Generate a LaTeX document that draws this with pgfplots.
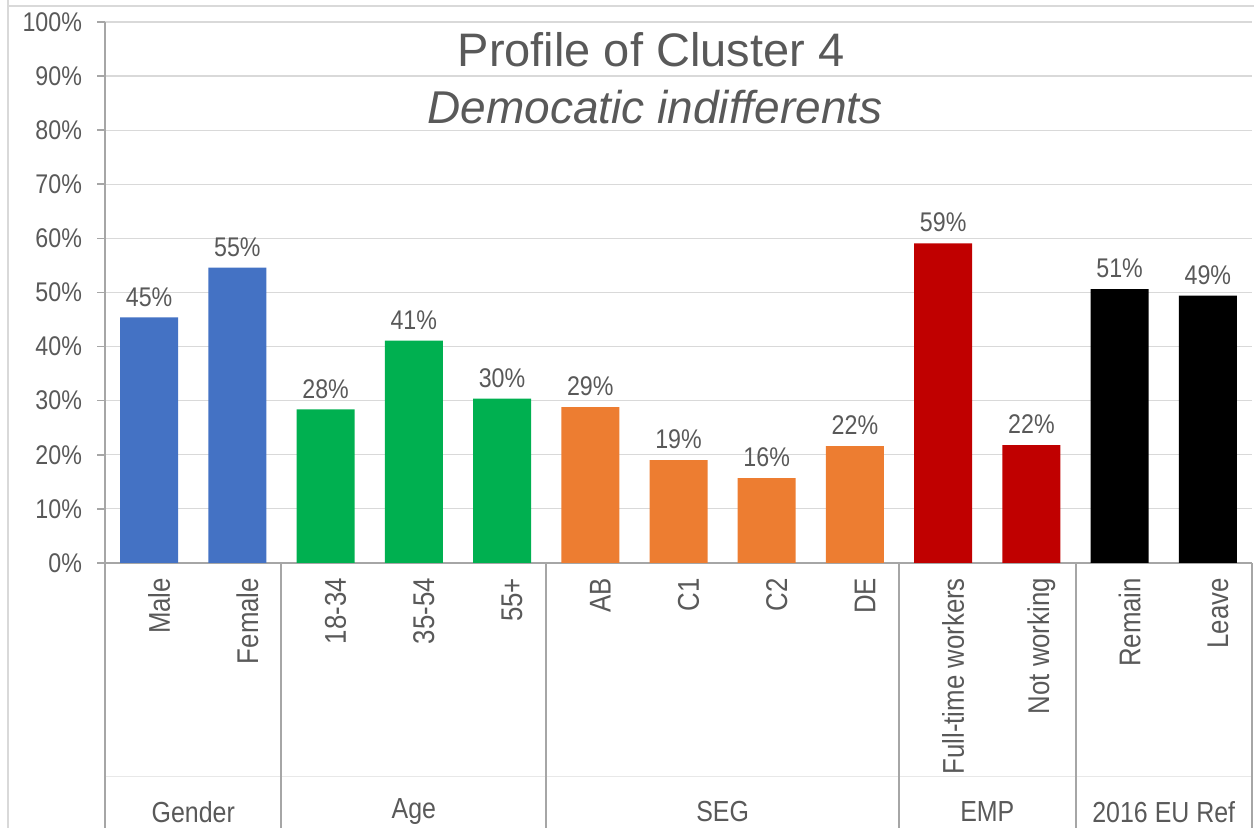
\documentclass[border=0pt]{standalone}
\usepackage{pgfplots}
\pgfplotsset{compat=1.18}
\usepackage{fontspec}
\setmainfont[FakeStretch=0.86]{Liberation Sans}
\newfontfamily\titlefont{Liberation Sans}
\definecolor{txt}{HTML}{595959}
\definecolor{axl}{HTML}{A6A6A6}
\definecolor{grd}{HTML}{D9D9D9}
\definecolor{cblue}{HTML}{4472C4}
\definecolor{cgreen}{HTML}{00B050}
\definecolor{corange}{HTML}{ED7D31}
\definecolor{cred}{HTML}{C00000}
\begin{document}
\begin{tikzpicture}
\draw[grd, line width=0.6pt] (4pt,414pt) -- (4pt,0pt);
\draw[grd, line width=0.6pt] (4pt,411pt) -- (627pt,411pt);
\begin{axis}[
  at={(52.5pt,132.5pt)}, anchor=south west,
  scale only axis, width=573.5pt, height=270.5pt,
  ybar, bar width=29pt, bar shift=0pt,
  xmin=-0.5, xmax=12.5, ymin=0, ymax=100,
  ytick={0,10,...,100},
  yticklabels={0\%,10\%,20\%,30\%,40\%,50\%,60\%,70\%,80\%,90\%,100\%},
  xtick={0,...,12},
  xticklabels={Male,Female,18-34,35-54,55+,AB,C1,C2,DE,Full-time workers,Not working,Remain,Leave},
  xticklabel style={rotate=90, anchor=east, font=\fontsize{15}{17}\selectfont, text=txt, yshift=-5pt},
  yticklabel style={font=\fontsize{13.5}{15}\selectfont, text=txt, xshift=-4pt},
  major x tick style={draw=none},
  major y tick style={axl, line width=0.8pt},
  ytick align=outside, major tick length=4pt,
  ymajorgrids, grid style={grd, line width=0.6pt},
  axis x line*=bottom, axis y line*=left,
  axis line style={axl, line width=1pt, -},
  clip=false,
  nodes near coords={\pgfmathprintnumber[fixed,precision=0,assume math mode=true]{\pgfplotspointmeta}\%},
  every node near coord/.append style={font=\fontsize{13.5}{15}\selectfont, text=txt, yshift=2pt},
]
\addplot[fill=cblue, draw=none] coordinates {(0,45.4) (1,54.6)};
\addplot[fill=cgreen, draw=none] coordinates {(2,28.4) (3,41.1) (4,30.4)};
\addplot[fill=corange, draw=none] coordinates {(5,28.8) (6,19.0) (7,15.7) (8,21.6)};
\addplot[fill=cred, draw=none] coordinates {(9,59.1) (10,21.8)};
\addplot[fill=black, draw=none] coordinates {(11,50.6) (12,49.4)};
\draw[grd!60, line width=0.5pt] ([yshift=-107pt]axis cs:-0.5,0) -- ([yshift=-107pt]axis cs:12.5,0);
\draw[axl, line width=1pt] (axis cs:-0.5,0) -- ([yshift=-132.5pt]axis cs:-0.5,0);
\draw[axl, line width=1pt] (axis cs:1.5,0) -- ([yshift=-132.5pt]axis cs:1.5,0);
\draw[axl, line width=1pt] (axis cs:4.5,0) -- ([yshift=-132.5pt]axis cs:4.5,0);
\draw[axl, line width=1pt] (axis cs:8.5,0) -- ([yshift=-132.5pt]axis cs:8.5,0);
\draw[axl, line width=1pt] (axis cs:10.5,0) -- ([yshift=-132.5pt]axis cs:10.5,0);
\draw[axl, line width=1pt] (axis cs:12.5,0) -- ([yshift=-132.5pt]axis cs:12.5,0);
\node[font=\fontsize{14.5}{16}\selectfont, text=txt] at ([yshift=-124.5pt]axis cs:0.5,0) {Gender};
\node[font=\fontsize{14.5}{16}\selectfont, text=txt] at ([yshift=-124.5pt]axis cs:3,0) {Age};
\node[font=\fontsize{14.5}{16}\selectfont, text=txt] at ([yshift=-124.5pt]axis cs:6.5,0) {SEG};
\node[font=\fontsize{14.5}{16}\selectfont, text=txt] at ([yshift=-124.5pt]axis cs:9.5,0) {EMP};
\node[font=\fontsize{14.5}{16}\selectfont, text=txt] at ([yshift=-124.5pt]axis cs:11.5,0) {2016 EU Ref};
\end{axis}
\node[font=\titlefont\fontsize{23.5}{26}\selectfont, text=txt] at (325.5pt,389pt) {Profile of Cluster 4};
\node[font=\titlefont\fontsize{23}{26}\selectfont\itshape, text=txt] at (327.5pt,360.5pt) {Democatic indifferents};
\pgfresetboundingbox
\useasboundingbox (0,0) rectangle (627pt,414pt);
\end{tikzpicture}
\end{document}
